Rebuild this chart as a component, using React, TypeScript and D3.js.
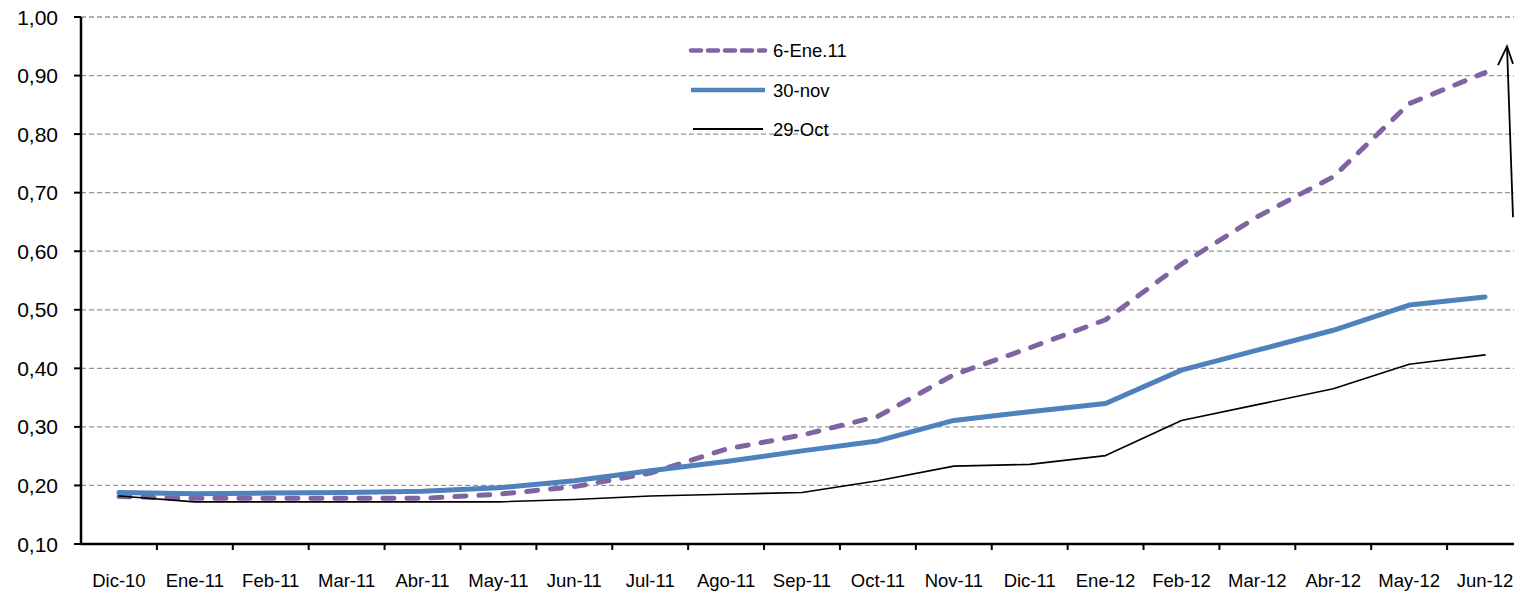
import React from "react";
import * as d3 from "d3";

const months = [
  "Dic-10", "Ene-11", "Feb-11", "Mar-11", "Abr-11", "May-11", "Jun-11",
  "Jul-11", "Ago-11", "Sep-11", "Oct-11", "Nov-11", "Dic-11", "Ene-12",
  "Feb-12", "Mar-12", "Abr-12", "May-12", "Jun-12",
];

// 6-Ene.11
const ene6 = [
  0.181, 0.178, 0.178, 0.178, 0.178, 0.185, 0.198, 0.221, 0.262, 0.286,
  0.318, 0.389, 0.435, 0.483, 0.578, 0.659, 0.727, 0.852, 0.905,
];
// 30-nov
const nov30 = [
  0.188, 0.186, 0.187, 0.188, 0.19, 0.196, 0.208, 0.225, 0.241, 0.259,
  0.276, 0.311, 0.326, 0.34, 0.397, 0.431, 0.465, 0.508, 0.522,
];
// 29-Oct
const oct29 = [
  0.182, 0.172, 0.172, 0.172, 0.172, 0.172, 0.176, 0.182, 0.185, 0.188,
  0.208, 0.233, 0.236, 0.251, 0.311, 0.338, 0.365, 0.407, 0.423,
];

const yTicks = [0.1, 0.2, 0.3, 0.4, 0.5, 0.6, 0.7, 0.8, 0.9, 1.0];

const series = [
  { name: "6-Ene.11", values: ene6, color: "#8064A2", width: 5, dash: "11 13" },
  { name: "30-nov", values: nov30, color: "#4F81BD", width: 5, dash: "" },
  { name: "29-Oct", values: oct29, color: "#000000", width: 1.6, dash: "" },
];

const W = 1514;
const H = 593;
const margin = { top: 17, right: -9, bottom: 49, left: 81 };

export default function App() {
  const x = d3
    .scaleBand()
    .domain(months)
    .range([margin.left, W - margin.right]);
  const y = d3
    .scaleLinear()
    .domain([0.1, 1.0])
    .range([H - margin.bottom, margin.top]);
  const fmt = (v: number) => v.toFixed(2).replace(".", ",");

  const line = d3
    .line<number>()
    .x((_, i) => (x(months[i]) as number) + x.bandwidth() / 2)
    .y((v) => y(v));

  const font = "'Liberation Sans', Arial, sans-serif";
  const legendX = 691;
  const legendY = [50.5, 90, 129];

  return (
    <div>
      <style>{`body{margin:0}`}</style>
      <svg width={W} height={H} style={{ display: "block", fontFamily: font }}>
        <rect width={W} height={H} fill="#ffffff" />
        {/* gridlines */}
        {yTicks.slice(1).map((t) => (
          <line
            key={"g" + t}
            x1={margin.left}
            x2={W}
            y1={y(t)}
            y2={y(t)}
            stroke="#969696"
            strokeWidth={1.3}
            strokeDasharray="5 3"
          />
        ))}
        {/* y axis */}
        <line x1={margin.left} x2={margin.left} y1={y(1)} y2={y(0.1)} stroke="#000" strokeWidth={2.5} />
        {yTicks.map((t) => (
          <g key={"y" + t}>
            <line x1={margin.left - 7} x2={margin.left} y1={y(t)} y2={y(t)} stroke="#000" strokeWidth={2} />
            <text x={58} y={y(t)} dy="0.36em" textAnchor="end" fontSize={21} fill="#000">
              {fmt(t)}
            </text>
          </g>
        ))}
        {/* x axis */}
        <line x1={margin.left} x2={W} y1={y(0.1)} y2={y(0.1)} stroke="#000" strokeWidth={2.5} />
        {months.map((m, i) => (
          <g key={m}>
            {i > 0 && (
              <line
                x1={x(m) as number}
                x2={x(m) as number}
                y1={y(0.1)}
                y2={y(0.1) + 6}
                stroke="#000"
                strokeWidth={2}
              />
            )}
            <text
              x={(x(m) as number) + x.bandwidth() / 2}
              y={580}
              dy="0.36em"
              textAnchor="middle"
              fontSize={18.5}
              fill="#000"
            >
              {m}
            </text>
          </g>
        ))}
        {/* series */}
        {series.map((s) => (
          <path
            key={s.name}
            d={line(s.values) || ""}
            fill="none"
            stroke={s.color}
            strokeWidth={s.width}
            strokeDasharray={s.dash || undefined}
            strokeLinecap="round"
            strokeLinejoin="round"
          />
        ))}
        {/* legend */}
        {series.map((s, i) => (
          <g key={"l" + s.name}>
            <line
              x1={i === 2 ? legendX + 2 : legendX}
              x2={i === 2 ? legendX + 72 : legendX + 74}
              y1={legendY[i]}
              y2={legendY[i]}
              stroke={s.color}
              strokeWidth={s.width === 5 ? 4.5 : 2}
              strokeDasharray={s.dash ? "10 7" : undefined}
              strokeLinecap={s.dash ? "round" : "butt"}
            />
            <text x={773} y={legendY[i]} dy="0.36em" fontSize={18.5} fill="#000">
              {s.name}
            </text>
          </g>
        ))}
        {/* annotation arrow */}
        <g stroke="#000" strokeWidth={1.8} fill="none">
          <line x1={W - 1} y1={y(0.658)} x2={W - 7} y2={y(0.95)} />
          <polyline
            points={`${W - 16},${y(0.918)} ${W - 7},${y(0.95)} ${W - 1},${y(0.92)}`}
          />
        </g>
      </svg>
    </div>
  );
}
